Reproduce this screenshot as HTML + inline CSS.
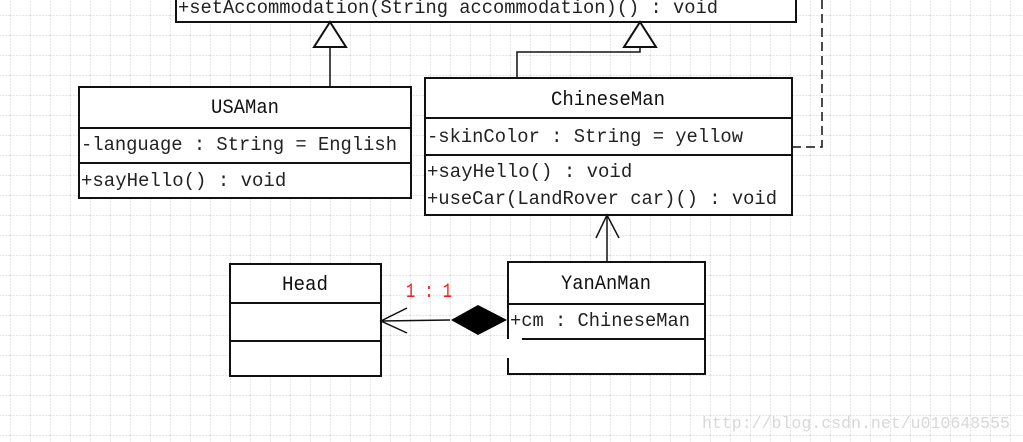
<!DOCTYPE html>
<html><head><meta charset="utf-8"><style>
html,body{margin:0;padding:0;background:#fff;}
svg{display:block;}
text{font-family:"Liberation Mono","Noto Sans CJK SC",monospace;font-size:19px;fill:#222;}
.t{font-size:20px;fill:#111;}
</style></head><body>
<svg width="1023" height="442" viewBox="0 0 1023 442" xmlns="http://www.w3.org/2000/svg">
<defs>
<pattern id="g" x="10" y="15" width="20" height="20" patternUnits="userSpaceOnUse">
<path d="M0 0H20M0 0V20" stroke="#cfcfcf" stroke-width="1" stroke-dasharray="2,1" fill="none"/>
</pattern>
</defs>
<rect width="1023" height="442" fill="#fff"/>
<rect width="1023" height="442" fill="url(#g)"/>
<g stroke="#111" stroke-width="2" fill="#fff">
<rect x="176" y="-10" width="620" height="32"/>
<rect x="79" y="87" width="332" height="111"/>
<line x1="79" y1="128" x2="411" y2="128"/>
<line x1="79" y1="163" x2="411" y2="163"/>
<rect x="425" y="78" width="367" height="137"/>
<line x1="425" y1="118" x2="792" y2="118"/>
<line x1="425" y1="155" x2="792" y2="155"/>
<rect x="230" y="264" width="151" height="112"/>
<line x1="230" y1="303" x2="381" y2="303"/>
<line x1="230" y1="341" x2="381" y2="341"/>
<path d="M508 339V262H705V374H508V358" fill="#fff"/>
<line x1="508" y1="304" x2="705" y2="304"/>
<line x1="522" y1="339" x2="705" y2="339"/>
</g>
<g fill="none" stroke="#111" stroke-width="1.5">
<line x1="330" y1="47" x2="330" y2="87"/>
<polyline points="640,47 640,52 517,52 517,78"/>
<polyline points="607,262 607,215"/>
<polyline points="596,238 607,215 619,238"/>
<line x1="381" y1="321" x2="450" y2="320"/>
<polyline points="407,308 381,321 407,333"/>
<polyline points="792,147 822,147 822,0" stroke-dasharray="9,5"/>
</g>
<g stroke="#111" stroke-width="2" fill="#fff">
<polygon points="330,22 314,47 346,47"/>
<polygon points="640,22 624,47 656,47"/>
</g>
<polygon points="451,320 478,305 507,320 478,335" fill="#000"/>
<text x="178" y="13" textLength="540" lengthAdjust="spacingAndGlyphs">+setAccommodation(String accommodation)() : void</text>
<text x="211" y="113" class="t" textLength="68" lengthAdjust="spacingAndGlyphs">USAMan</text>
<text x="81" y="150" textLength="316" lengthAdjust="spacingAndGlyphs">-language : String = English</text>
<text x="81" y="186">+sayHello() : void</text>
<text x="551" y="105" class="t" textLength="114" lengthAdjust="spacingAndGlyphs">ChineseMan</text>
<text x="427" y="142" textLength="316" lengthAdjust="spacingAndGlyphs">-skinColor : String = yellow</text>
<text x="427" y="177">+sayHello() : void</text>
<text x="427" y="204" textLength="350" lengthAdjust="spacingAndGlyphs">+useCar(LandRover car)() : void</text>
<text x="282" y="290" class="t" textLength="46" lengthAdjust="spacingAndGlyphs">Head</text>
<text x="561" y="289" class="t" textLength="90" lengthAdjust="spacingAndGlyphs">YanAnMan</text>
<text x="510" y="326" textLength="180" lengthAdjust="spacingAndGlyphs">+cm : ChineseMan</text>
<text x="406" y="297" style="fill:#f02020;font-size:20px" textLength="46" lengthAdjust="spacingAndGlyphs">1 : 1</text>
<text x="702" y="428" style="fill:#d8d8d8;font-size:17px" textLength="308" lengthAdjust="spacingAndGlyphs">http://blog.csdn.net/u010648555</text>
</svg>
</body></html>
